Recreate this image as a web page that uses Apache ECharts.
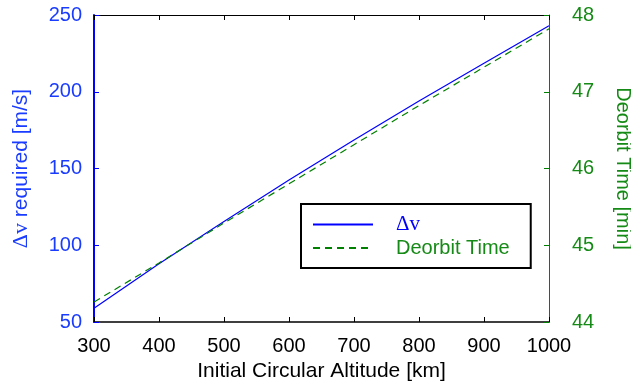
<!DOCTYPE html>
<html>
<head>
<meta charset="utf-8">
<script src="https://cdn.jsdelivr.net/npm/echarts@6/dist/echarts.min.js"></script>
<style>html,body{margin:0;padding:0;background:#fff}#c{width:631px;height:381px}</style>
</head>
<body>
<div id="c"></div>
<script>
const altitudes = [300, 400, 500, 600, 700, 800, 900, 1000];
const deltaV = [59, 88, 115.5, 142.5, 168.5, 194, 218.5, 243];
const deorbitTime = [44.26, 44.77, 45.29, 45.80, 46.31, 46.82, 47.32, 47.82];

const BLUE = '#0000ff';
const BLUE_TXT = '#1a3cff';
const GREEN = '#008000';
const GREEN_TXT = '#168a16';
const FONT = 'Liberation Sans, Arial, sans-serif';
const SERIF = 'Liberation Serif, Times New Roman, serif';

const chart = echarts.init(document.getElementById('c'), null, {renderer: 'canvas'});
chart.setOption({
  animation: false,
  backgroundColor: '#fff',
  grid: {left: 94, right: 82, top: 15, bottom: 59, containLabel: false, outerBoundsMode: 'none'},
  legend: {
    orient: 'vertical',
    left: 301, top: 204,
    padding: [10, 21, 10, 11],
    borderColor: '#000', borderWidth: 2,
    backgroundColor: '#fff',
    itemWidth: 60, itemHeight: 14, itemGap: 3,
    textStyle: {fontSize: 20, lineHeight: 20, fontFamily: FONT, padding: [0, 0, 0, 18]},
    data: [
      {name: 'Δv', itemStyle: {opacity: 0}, textStyle: {color: BLUE, fontFamily: SERIF, fontSize: 21, lineHeight: 20}},
      {name: 'Deorbit Time', itemStyle: {opacity: 0}, textStyle: {color: GREEN_TXT, fontFamily: FONT, fontSize: 20, lineHeight: 20}}
    ]
  },
  xAxis: [{
    type: 'value', min: 300, max: 1000, interval: 100,
    name: 'Initial Circular Altitude [km]', nameLocation: 'middle', nameGap: 37,
    nameTextStyle: {color: '#000', fontSize: 21, fontFamily: FONT},
    axisLine: {show: true, onZero: false, lineStyle: {color: '#000', width: 1.5}},
    axisTick: {inside: true, length: 5, lineStyle: {color: '#000'}},
    axisLabel: {color: '#000', fontSize: 20, fontFamily: FONT, margin: 14, formatter: v => String(v)},
    splitLine: {show: false}
  }, {
    type: 'value', position: 'top', min: 300, max: 1000, interval: 100,
    axisLine: {show: true, onZero: false, lineStyle: {color: '#000', width: 1}},
    axisTick: {show: true, inside: true, length: 5, lineStyle: {color: '#000'}},
    axisLabel: {show: false},
    splitLine: {show: false}
  }],
  yAxis: [{
    type: 'value', position: 'left', min: 50, max: 250, interval: 50,
    name: '{s|Δv} required [m/s]', nameLocation: 'middle', nameGap: 62,
    nameTextStyle: {color: BLUE_TXT, fontSize: 21, fontFamily: FONT,
      rich: {s: {fontFamily: SERIF, fontSize: 22, color: BLUE_TXT}}},
    axisLine: {show: true, onZero: false, lineStyle: {color: BLUE, width: 2}},
    axisTick: {inside: true, length: 5, lineStyle: {color: BLUE}},
    axisLabel: {color: BLUE_TXT, fontSize: 20, fontFamily: FONT, margin: 12},
    splitLine: {show: false}
  }, {
    type: 'value', position: 'right', min: 44, max: 48, interval: 1,
    name: 'Deorbit Time [min]', nameLocation: 'middle', nameGap: 64, nameRotate: -90,
    nameTextStyle: {color: GREEN_TXT, fontSize: 20, fontFamily: FONT},
    axisLine: {show: true, onZero: false, lineStyle: {color: GREEN, width: 1}},
    axisTick: {inside: true, length: 5, lineStyle: {color: GREEN}},
    axisLabel: {color: GREEN_TXT, fontSize: 20, fontFamily: FONT, margin: 23},
    splitLine: {show: false}
  }],
  series: [{
    name: 'Δv', type: 'line', xAxisIndex: 0, yAxisIndex: 0,
    showSymbol: false, symbol: 'none', smooth: false,
    lineStyle: {color: BLUE, width: 1.2},
    itemStyle: {color: BLUE},
    data: altitudes.map((a, i) => [a, deltaV[i]])
  }, {
    name: 'Deorbit Time', type: 'line', xAxisIndex: 0, yAxisIndex: 1,
    showSymbol: false, symbol: 'none', smooth: false,
    lineStyle: {color: GREEN, width: 1.2, type: [7, 5]},
    itemStyle: {color: GREEN},
    data: altitudes.map((a, i) => [a, deorbitTime[i]])
  }]
});
</script>
</body>
</html>
